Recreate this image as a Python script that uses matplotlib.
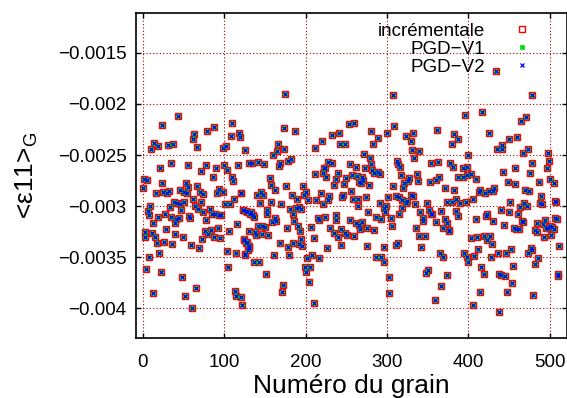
import matplotlib
matplotlib.use("Agg")
import matplotlib.pyplot as plt
from matplotlib.ticker import FixedLocator, FixedFormatter

plt.rcParams['font.family'] = ['Liberation Sans', 'DejaVu Sans']
plt.rcParams['mathtext.fontset'] = 'custom'
plt.rcParams['mathtext.rm'] = 'Liberation Sans'

# ---- data (grain number, mean strain <eps11>_G) ----
grains = [
    43, 24, 14, 18, 10, 63, 61, 66, 79, 87, 31, 37, 110, 108, 118, 119, 99, 102, 126,
    21, 34, 55, 78, 71, 90, 100, 103, 117, 131, 1, 5, 0, 16, 23, 25, 30, 32, 46, 51, 53,
    56, 54, 67, 70, 74, 86, 94, 98, 91, 109, 111, 120, 38, 42, 50, 45, 62, 72, 101, 107,
    112, 9, 6, 7, 33, 27, 19, 13, 47, 35, 41, 44, 39, 57, 58, 64, 68, 74, 82, 77, 85, 89,
    93, 96, 123, 128, 132, 116, 3, 2, 11, 15, 17, 28, 26, 36, 40, 49, 59, 69, 73, 76, 80,
    84, 88, 92, 95, 106, 124, 127, 130, 125, 114, 104, 20, 8, 4, 22, 48, 65, 12, 52, 60,
    105, 113, 115, 121, 122,
    175, 173, 187, 166, 165, 174, 160, 134, 141, 149, 168, 167, 179, 182, 211, 220, 233,
    241, 242, 249, 253, 260, 224, 228, 232, 255, 262,
    156, 157, 162, 176, 140, 145, 148, 120, 144, 158, 170, 183, 189, 197, 198, 200, 203,
    213, 212, 221, 225, 223, 240, 235, 238, 247, 250, 257, 263, 256, 266, 219, 229, 227,
    222, 246, 245, 258, 264, 265, 181, 184, 188, 195, 186, 192, 123, 127, 133, 135, 137,
    152, 153, 159, 163, 164, 142, 146, 150, 131, 138, 139, 147, 154, 177, 191, 193, 124,
    128, 130, 129, 125, 136, 143, 151, 161, 169, 178, 180, 185, 194, 196, 192, 207, 210,
    202, 208, 217, 226, 243, 230, 235, 240, 244, 249, 251, 259, 255, 262, 266, 224, 216,
    215, 237, 238, 199, 201, 205, 204, 172, 171, 210,
    308, 396, 281, 289, 283, 300, 309, 323, 332, 330, 331, 340, 333, 362, 383, 388, 380,
    272, 279, 280, 273, 312, 314, 354, 363, 378, 381, 400,
    316, 393, 398, 282, 284, 289, 291, 269, 271, 268, 278, 274, 277, 292, 296, 298, 299,
    301, 287, 293, 284, 275, 267, 269, 305, 306, 307, 317, 321, 320, 326, 327, 337, 338,
    353, 361, 364, 371, 382, 387, 394, 399, 311, 315, 319, 324, 325, 330, 332, 318, 315,
    335, 341, 345, 344, 352, 354, 356, 349, 360, 367, 374, 380, 385, 390, 397, 385, 388,
    372, 374, 369, 376, 377, 336, 339, 347, 342, 314, 311, 276, 296, 287, 293, 297, 303,
    302, 365, 369, 350, 348, 374, 367, 359, 395, 399, 400,
    434, 479, 417, 465, 471, 425, 450, 460, 435, 441, 442, 474, 468, 498, 499, 479, 458,
    497,
    403, 409, 443, 449, 457, 476, 487, 501, 506, 414, 413, 421, 426, 432, 431, 406, 470,
    475, 490, 451, 464, 469, 472, 488, 491, 507, 508, 440, 450, 461, 410, 423, 422, 430,
    444, 456, 459, 463, 466, 467, 484, 485, 482, 492, 495, 496, 498, 500, 502, 503, 505,
    507, 509, 512, 493, 404, 411, 420, 423, 429, 427, 407, 412, 416, 419, 415, 406, 437,
    447, 453, 428, 438, 440, 445, 455, 454, 448, 438, 480, 482, 486, 477, 478, 473, 511,
    510,
]

eps_incrementale = [
    -0.00212, -0.00221, -0.00238, -0.00241, -0.00244, -0.00229, -0.00234, -0.00242,
    -0.00226, -0.00223, -0.00240, -0.00239, -0.00219, -0.00231, -0.00228, -0.00232,
    -0.00243, -0.00241, -0.00245,
    -0.002625, -0.00258, -0.002596, -0.002596, -0.002658, -0.002625, -0.0026, -0.002645,
    -0.0026, -0.00258, -0.002739, -0.00274, -0.002827, -0.00287, -0.002778, -0.00286,
    -0.00287, -0.00285, -0.002843, -0.00286, -0.002772, -0.002811, -0.002876, -0.002804,
    -0.00286, -0.002883, -0.002719, -0.002834, -0.00286, -0.002876, -0.002719, -0.002758,
    -0.002876, -0.002958, -0.002968, -0.002958, -0.002974, -0.002934, -0.002963, -0.00298,
    -0.00298, -0.002934, -0.002997, -0.003049, -0.003088, -0.003007, -0.003072, -0.00311,
    -0.00316, -0.003039, -0.00311, -0.003127, -0.003117, -0.003163, -0.003098, -0.003111,
    -0.003, -0.003023, -0.003056, -0.003023, -0.003137, -0.003072, -0.003072, -0.003091,
    -0.003088, -0.003039, -0.003056, -0.003072, -0.003179, -0.003257, -0.0033, -0.003261,
    -0.003306, -0.003365, -0.003225, -0.003355, -0.003372, -0.003277, -0.0033, -0.003382,
    -0.003414, -0.003326, -0.003245, -0.003274, -0.003235, -0.003306, -0.003218, -0.00331,
    -0.003245, -0.003326, -0.003359, -0.003414, -0.00347, -0.003463, -0.003437, -0.003463,
    -0.003499, -0.003619, -0.003643, -0.003692, -0.003799, -0.003854, -0.003881,
    -0.004001, -0.003594, -0.003829, -0.003878, -0.003893, -0.003969,
    -0.001901, -0.002234, -0.002266, -0.00239, -0.002459, -0.002445, -0.002501,
    -0.002582, -0.002572, -0.002592, -0.002582, -0.002609, -0.00256, -0.002543,
    -0.002435, -0.002364, -0.002308, -0.002283, -0.002387, -0.002393, -0.0022,
    -0.002191, -0.002625, -0.002572, -0.002582, -0.002589, -0.002615,
    -0.002723, -0.002792, -0.002843, -0.002804, -0.002892, -0.002863, -0.002889,
    -0.002876, -0.002968, -0.002961, -0.002974, -0.002886, -0.002934, -0.002804,
    -0.002886, -0.002863, -0.002941, -0.002941, -0.002687, -0.002674, -0.002719,
    -0.002625, -0.002674, -0.002792, -0.002739, -0.002788, -0.002723, -0.002697,
    -0.002704, -0.00285, -0.002762, -0.002876, -0.002899, -0.002941, -0.002974,
    -0.002886, -0.002915, -0.002934, -0.002934, -0.003, -0.003023, -0.003072, -0.003016,
    -0.003023, -0.003144, -0.003007, -0.003039, -0.003046, -0.003056, -0.003088,
    -0.00311, -0.003039, -0.003072, -0.003154, -0.00312, -0.003147, -0.003193, -0.003196,
    -0.003202, -0.003242, -0.003251, -0.003284, -0.003274, -0.003284, -0.003218,
    -0.003196, -0.003242, -0.003333, -0.003355, -0.003391, -0.003431, -0.003473,
    -0.003545, -0.003545, -0.003659, -0.003473, -0.003359, -0.003398, -0.003479,
    -0.003359, -0.003326, -0.003388, -0.003372, -0.003202, -0.003313, -0.003512,
    -0.003482, -0.003506, -0.003411, -0.003382, -0.003209, -0.003267, -0.0033, -0.003225,
    -0.003261, -0.003287, -0.003291, -0.003137, -0.003169, -0.003186, -0.00311,
    -0.003137, -0.003114, -0.003137, -0.003088, -0.003594, -0.003643, -0.0036,
    -0.003741, -0.003773, -0.003839, -0.003952,
    -0.001914, -0.00211, -0.002266, -0.002332, -0.002387, -0.002289, -0.002217,
    -0.002312, -0.002289, -0.002361, -0.002452, -0.002462, -0.002524, -0.00225,
    -0.002298, -0.002338, -0.002396, -0.002494, -0.002533, -0.002592, -0.002625,
    -0.00256, -0.002589, -0.002582, -0.002566, -0.002576, -0.002621, -0.002501,
    -0.002615, -0.002631, -0.002615, -0.002648, -0.00268, -0.002669, -0.00269,
    -0.002719, -0.002746, -0.002772, -0.002794, -0.002915, -0.003062, -0.002968,
    -0.003016, -0.003056, -0.002997, -0.002909, -0.003104, -0.00313, -0.003235,
    -0.003218, -0.003228, -0.003154, -0.00312, -0.003196, -0.002801, -0.002697,
    -0.002778, -0.002827, -0.002752, -0.00272, -0.002687, -0.002752, -0.002762,
    -0.002746, -0.002713, -0.002821, -0.002837, -0.002713, -0.002713, -0.002697,
    -0.002902, -0.002909, -0.002941, -0.002968, -0.002948, -0.002886, -0.002896,
    -0.003016, -0.003072, -0.002983, -0.003062, -0.00312, -0.003144, -0.003039,
    -0.003072, -0.003078, -0.002968, -0.003154, -0.003046, -0.002958, -0.002958,
    -0.002934, -0.002968, -0.002958, -0.003046, -0.003098, -0.00313, -0.003169,
    -0.003218, -0.003245, -0.003235, -0.003218, -0.003294, -0.003294, -0.003404,
    -0.003359, -0.003382, -0.003391, -0.003404, -0.003496, -0.003496, -0.003545,
    -0.003698, -0.003848, -0.003463, -0.003496, -0.003626, -0.003653, -0.003675,
    -0.003783, -0.00392, -0.003457, -0.003496, -0.003545,
    -0.001679, -0.001911, -0.002077, -0.002165, -0.002132, -0.002289, -0.002344,
    -0.002328, -0.002442, -0.002403, -0.002442, -0.002442, -0.002484, -0.002478,
    -0.002557, -0.002582, -0.002631, -0.002631,
    -0.002687, -0.002739, -0.00267, -0.002768, -0.002788, -0.00268, -0.002768,
    -0.002739, -0.002772, -0.002837, -0.00286, -0.00287, -0.00285, -0.002827,
    -0.002853, -0.002934, -0.002843, -0.00285, -0.002899, -0.002958, -0.003013,
    -0.002968, -0.002997, -0.002968, -0.002983, -0.002948, -0.002958, -0.003033,
    -0.003062, -0.003072, -0.003127, -0.003078, -0.0031, -0.003147, -0.003186,
    -0.003212, -0.003228, -0.003228, -0.003144, -0.003154, -0.003169, -0.003251,
    -0.003235, -0.003176, -0.003137, -0.003218, -0.003218, -0.003193, -0.003284,
    -0.003202, -0.003228, -0.00312, -0.00313, -0.003391, -0.0033, -0.00331, -0.003303,
    -0.003294, -0.003333, -0.003372, -0.003294, -0.003489, -0.003424, -0.003594,
    -0.003665, -0.003844, -0.003969, -0.003457, -0.003463, -0.003424, -0.003496,
    -0.003659, -0.003675, -0.003685, -0.003587, -0.00375, -0.003839, -0.004034,
    -0.003871, -0.003568, -0.003512, -0.003414, -0.003431, -0.003457, -0.003659,
    -0.003685,
]
# The two PGD solutions coincide with the incremental one to the pixel.
eps_pgd_v1 = list(eps_incrementale)
eps_pgd_v2 = list(eps_incrementale)

series_labels = ["incrémentale", "PGD\u2212V1", "PGD\u2212V2"]
x_ticks = [0, 100, 200, 300, 400, 500]
y_ticks = [-0.004, -0.0035, -0.003, -0.0025, -0.002, -0.0015]
y_tick_labels = ["\u22120.004", "\u22120.0035", "\u22120.003", "\u22120.0025", "\u22120.002", "\u22120.0015"]

fig = plt.figure(figsize=(5.67, 3.98), dpi=100)
ax = fig.add_axes([135.6 / 567, 60 / 398, (567 - 135.6) / 567, 325 / 398])

ax.plot(grains, eps_incrementale, linestyle='none', marker='s', ms=4.2,
        mfc='none', mec='#ff0000', mew=1.0, label=series_labels[0], zorder=3)
ax.plot(grains, eps_pgd_v1, linestyle='none', marker='s', ms=2.4,
        mfc='#00e000', mec='#00e000', mew=0.5, label=series_labels[1], zorder=4)
ax.plot(grains, eps_pgd_v2, linestyle='none', marker='x', ms=3.0,
        mec='#0000ff', mew=0.9, label=series_labels[2], zorder=5)

ax.set_xlim(-9, 521.5)
ax.set_ylim(-0.00429, -0.00111)
ax.xaxis.set_major_locator(FixedLocator(x_ticks))
ax.yaxis.set_major_locator(FixedLocator(y_ticks))
ax.yaxis.set_major_formatter(FixedFormatter(y_tick_labels))

ax.grid(True, color='#a00000', linestyle=(0, (1, 2)), linewidth=0.8)
ax.set_axisbelow(True)
ax.tick_params(direction='in', top=True, right=True, length=3.5, width=1.0,
               labelsize=13.5)
ax.tick_params(axis='x', pad=11.5)
ax.tick_params(axis='y', pad=6.5)
for s in ax.spines.values():
    s.set_linewidth(1.2)

ax.set_xlabel("Numéro du grain", fontsize=19)
ax.xaxis.set_label_coords(0.5, -0.112)
ax.set_ylabel("<\u03b511>$_{\\mathregular{G}}$", fontsize=19)
ax.yaxis.set_label_coords(-0.222, 0.5)

leg = ax.legend(loc='upper right', bbox_to_anchor=(0.94, 0.97), frameon=False,
                markerfirst=False, handlelength=2.0, handletextpad=1.0,
                borderpad=0, borderaxespad=0, labelspacing=0.05, fontsize=13.5,
                numpoints=1)

fig.savefig("out.png", dpi=100)
